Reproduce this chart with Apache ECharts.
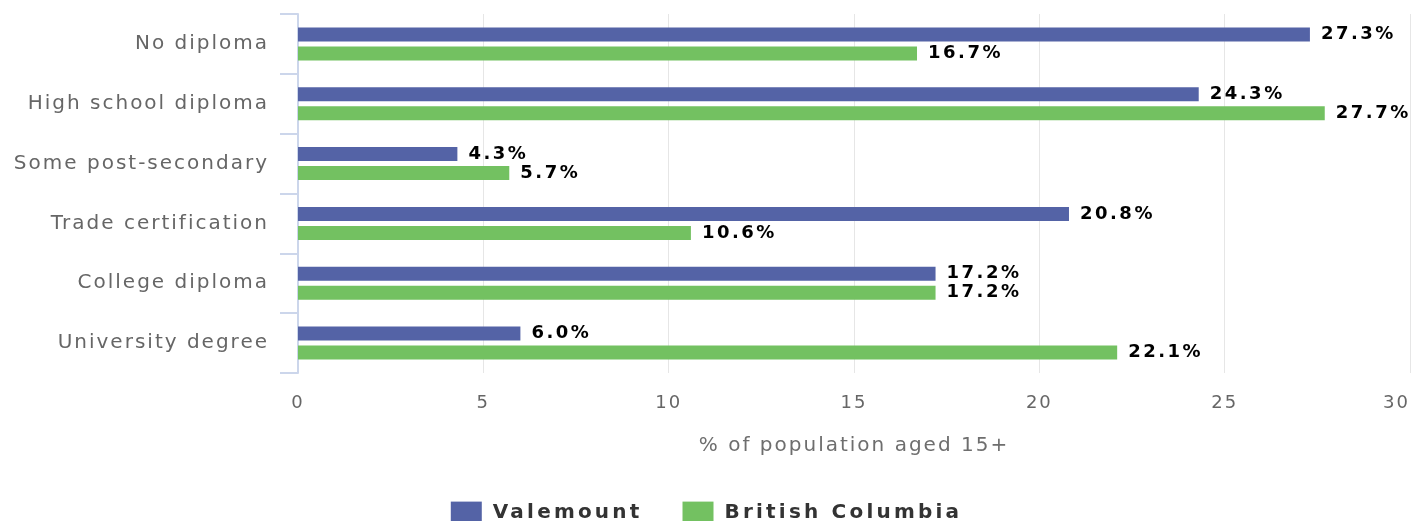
<!DOCTYPE html>
<html>
<head>
<meta charset="utf-8">
<script src="https://cdn.jsdelivr.net/npm/echarts@6/dist/echarts.min.js"></script>
<style>
  html, body { margin: 0; padding: 0; background: #fff; }
  #chart { width: 1413px; height: 521px; }
</style>
</head>
<body>
<div id="chart"></div>
<script>
const categories = [
  "No diploma",
  "High school diploma",
  "Some post-secondary",
  "Trade certification",
  "College diploma",
  "University degree",
];
const valemount = [27.3, 24.3, 4.3, 20.8, 17.2, 6.0];
const britishColumbia = [16.7, 27.7, 5.7, 10.6, 17.2, 22.1];
const seriesNames = ["Valemount", "British Columbia"];

// the original text is letter-spaced; canvas can do that, echarts can't
const proto = CanvasRenderingContext2D.prototype;
const fillText = proto.fillText;
const measureText = proto.measureText;
const spacing = (ctx) => {
  if (/^600 /.test(ctx.font) || / 600 /.test(ctx.font)) return "3.2px";
  return /bold/.test(ctx.font) ? "2.5px" : "2px";
};
proto.fillText = function (t, x, y, m) {
  this.letterSpacing = spacing(this);
  return m === undefined ? fillText.call(this, t, x, y) : fillText.call(this, t, x, y, m);
};
proto.measureText = function (t) {
  this.letterSpacing = spacing(this);
  return measureText.call(this, t);
};

const font = "DejaVu Sans";
const label = {
  show: true,
  position: "right",
  distance: 11,
  color: "#000",
  fontFamily: font,
  fontWeight: "bold",
  fontSize: 18,
  formatter: (p) => p.value.toFixed(1) + "%",
};

const myChart = echarts.init(document.getElementById("chart"));
myChart.setOption({
  animation: false,
  grid: { left: 298, right: 2, top: 14, bottom: 148 },
  legend: {
    data: seriesNames,
    top: 496,
    left: "center",
    icon: "rect",
    itemWidth: 31,
    itemHeight: 22,
    itemGap: 40,
    textStyle: {
      color: "#333",
      fontFamily: font,
      fontWeight: 600,
      fontSize: 20,
      padding: [0, 0, 0, 6],
    },
  },
  xAxis: {
    type: "value",
    min: 0,
    max: 30,
    interval: 5,
    name: "% of population aged 15+",
    nameLocation: "middle",
    nameGap: 62,
    nameTextStyle: { color: "#6e6e6e", fontFamily: font, fontSize: 20 },
    axisLine: { show: false },
    axisTick: { show: false },
    axisLabel: {
      color: "#666",
      fontFamily: font,
      fontSize: 18,
      margin: 20,
      alignMaxLabel: "right",
    },
    splitLine: { lineStyle: { color: "#e6e6e6", width: 1 } },
  },
  yAxis: {
    type: "category",
    data: categories,
    inverse: true,
    offset: 2,
    axisLine: { show: true, lineStyle: { color: "#ccd6eb", width: 2 } },
    axisTick: { show: true, length: 18, lineStyle: { color: "#ccd6eb", width: 2 } },
    axisLabel: { color: "#666", fontFamily: font, fontSize: 20, margin: 27 },
  },
  series: [
    {
      name: seriesNames[0],
      type: "bar",
      data: valemount,
      barWidth: 14,
      barGap: "36%",
      itemStyle: { color: "#5463a6" },
      label: label,
    },
    {
      name: seriesNames[1],
      type: "bar",
      data: britishColumbia,
      barWidth: 14,
      itemStyle: { color: "#73c161" },
      label: label,
    },
  ],
});
</script>
</body>
</html>
